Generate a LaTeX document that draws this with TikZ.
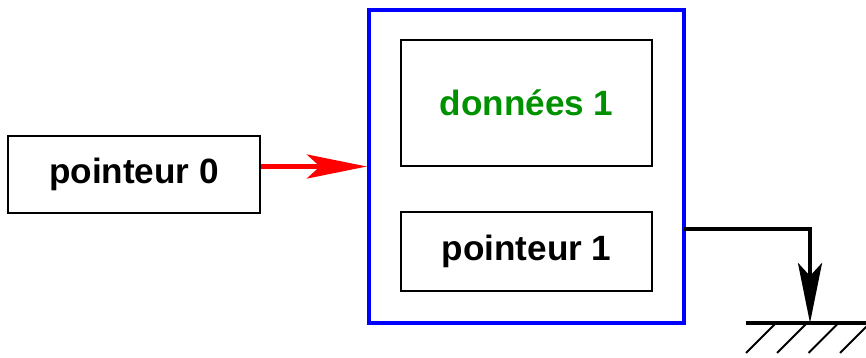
\documentclass[tikz,border=0pt]{standalone}
\usepackage{fontspec}
\setmainfont{Liberation Sans}
\usepackage{tikz}
\usetikzlibrary{positioning, arrows.meta, calc}
\definecolor{datagreen}{RGB}{0,145,0}
\tikzstyle{ptr_box}=[rectangle, draw, line width=1.2pt, inner sep=0pt, font=\fontsize{20}{24}\selectfont\bfseries]
\tikzstyle{mem_box}=[rectangle, draw=blue, line width=2.4pt, inner sep=0pt, minimum width=6.30cm, minimum height=6.26cm]
\tikzstyle{ptr_arrow}=[line width=2.6pt, -{Stealth[length=12mm, width=4.8mm, inset=2.6mm]}]

\begin{document}
\begin{tikzpicture}
    \useasboundingbox (0,0) rectangle (17.32,-7.16);

    \node[mem_box] at (10.53, -3.33) (mem) {};
    \node[ptr_box, minimum width=5.02cm, minimum height=2.52cm, text=datagreen] at (10.53, -2.06) (data1) {données 1};
    \node[ptr_box, minimum width=5.02cm, minimum height=1.58cm] at (10.53, -5.03) (ptr1) {pointeur 1};
    \node[ptr_box, minimum width=5.04cm, minimum height=1.54cm] at (2.68, -3.49) (ptr0) {pointeur 0};

    \coordinate (gnd) at (16.2, -6.46);
    \coordinate (gndl) at (14.92, -6.46);
    \coordinate (gndr) at (17.32, -6.46);

    \draw[ptr_arrow, color=red] (ptr0.east |- mem.west) -- (mem.west);
    \draw[ptr_arrow, line cap=rect] ([yshift=-12.5mm]mem.east) -| (gnd);

    % ground
    \draw[line width=2.4pt] (gndl) -- (gndr);
    \foreach \dx in {0, 0.62, 1.25, 1.88}
        \draw[line width=1.1pt] ($(gndl)+(\dx,-0.6)$) -- ++(0.6,0.6);
\end{tikzpicture}
\end{document}
